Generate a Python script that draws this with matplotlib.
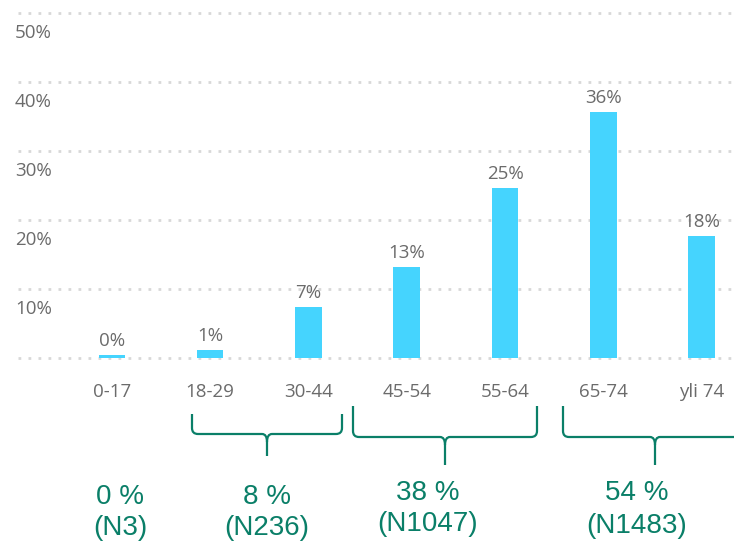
import matplotlib
matplotlib.use("Agg")
import matplotlib.pyplot as plt
from matplotlib.path import Path
from matplotlib.patches import PathPatch
from matplotlib.transforms import blended_transform_factory

categories = ["0-17", "18-29", "30-44", "45-54", "55-64", "65-74", "yli 74"]
values = [0.4, 1.1, 7.4, 13.2, 24.6, 35.6, 17.7]
value_labels = ["0%", "1%", "7%", "13%", "25%", "36%", "18%"]
ytick_values = [10, 20, 30, 40, 50]
ytick_labels = ["10%", "20%", "30%", "40%", "50%"]
group_pct = ["0 %", "8 %", "38 %", "54 %"]
group_n = ["(N3)", "(N236)", "(N1047)", "(N1483)"]

W, H = 734, 544
BAR = "#45d4fe"
GRAY = "#6b6b6b"
GREEN = "#0a7f68"
FS = 13.5

fig = plt.figure(figsize=(W / 100, H / 100), dpi=100)
ax = fig.add_axes([18 / W, 1 - 358 / H, 1 - 18 / W, (358 - 13) / H])
x = list(range(len(categories)))
ax.bar(x, values, width=0.27, color=BAR, zorder=3)
ax.set_xlim(-0.956, 6.33)
ax.set_ylim(0, 50)
for s in ax.spines.values():
    s.set_visible(False)
ax.set_yticks([])
for g in [0] + ytick_values:
    ax.axhline(g, color="#d8d8d8", lw=2.0, ls=(0, (1, 2.6)), zorder=1, clip_on=False)

ax.set_xticks(x)
ax.set_xticklabels(categories, fontsize=FS, color=GRAY, family="Open Sans")
ax.tick_params(axis="x", length=0, pad=18)

yt = blended_transform_factory(fig.transFigure, ax.transData)
for v, lab in zip(ytick_values, ytick_labels):
    ax.annotate(lab, xy=(15 / W, v), xycoords=yt, xytext=(0, -20), textcoords="offset pixels",
                ha="left", va="center", fontsize=FS, color=GRAY, family="Open Sans")

for xi, v, lab in zip(x, values, value_labels):
    ax.annotate(lab, xy=(xi, v), xytext=(0, 5), textcoords="offset pixels",
                ha="center", va="bottom", fontsize=FS, color=GRAY, family="Open Sans")


def px(xp, yp):
    return (xp / W, 1 - yp / H)


def bracket(x0, x1, xc, ytop, yh, ytip, r=6, c=5):
    verts = [px(x0, ytop), px(x0, yh - r), px(x0, yh), px(x0 + r, yh),
             px(xc - c, yh), px(xc, yh), px(xc, yh + c + 3), px(xc, ytip),
             px(x1, ytop), px(x1, yh - r), px(x1, yh), px(x1 - r, yh),
             px(xc + c, yh), px(xc, yh), px(xc, yh + c + 3)]
    codes = [Path.MOVETO, Path.LINETO, Path.CURVE3, Path.CURVE3,
             Path.LINETO, Path.CURVE3, Path.CURVE3, Path.LINETO,
             Path.MOVETO, Path.LINETO, Path.CURVE3, Path.CURVE3,
             Path.LINETO, Path.CURVE3, Path.CURVE3]
    p = PathPatch(Path(verts, codes), transform=fig.transFigure, fill=False,
                  edgecolor=GREEN, lw=1.6)
    fig.add_artist(p)


bracket(192, 342, 267, 414, 434, 456)
bracket(353, 537, 445, 406, 437, 465)
bracket(563, 780, 655, 406, 437, 465)

text_pos = [(120, 497, 528), (267, 497, 528), (428, 493, 524), (637, 493, 526)]
for (tx, y1, y2), a, b in zip(text_pos, group_pct, group_n):
    fig.text(tx / W, 1 - y1 / H, a, ha="center", va="center", fontsize=20,
             color=GREEN, family="Liberation Sans")
    fig.text(tx / W, 1 - y2 / H, b, ha="center", va="center", fontsize=20,
             color=GREEN, family="Liberation Sans")

fig.savefig("out.png", dpi=100)
